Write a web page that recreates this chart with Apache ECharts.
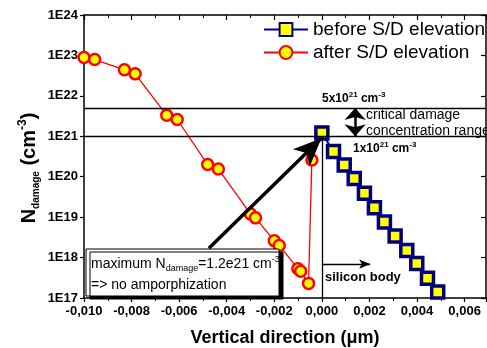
<!DOCTYPE html>
<html>
<head>
<meta charset="utf-8">
<script src="https://cdn.jsdelivr.net/npm/echarts@6/dist/echarts.min.js"></script>
<style>
  html, body { margin: 0; padding: 0; background: #fff; }
  #chart { width: 487px; height: 348px; }
</style>
</head>
<body>
<div id="chart"></div>
<script>
// datos
var xAfter = [-0.0100, -0.00955, -0.0083, -0.00785, -0.00652, -0.00608, -0.0048, -0.00435,
  -0.0030, -0.00279, -0.0020, -0.00179, -0.00101, -0.00089, -0.00056, -0.00042];
var yAfter = [8.9e22, 7.9e22, 4.4e22, 3.5e22, 3.3e21, 2.6e21, 2.0e20, 1.55e20,
  1.2e19, 9.6e18, 2.6e18, 2.0e18, 5.3e17, 4.6e17, 2.3e17, 2.6e20];

var xBefore = [0.0, 0.00049, 0.00094, 0.00136, 0.00179, 0.00221, 0.00263, 0.00308,
  0.00357, 0.00399, 0.00444, 0.00487, 0.00535];
var yBefore = [1.2e21, 4.2e20, 1.95e20, 9e19, 3.9e19, 1.7e19, 7.6e18, 3.4e18,
  1.5e18, 7.1e17, 3.1e17, 1.4e17, 6e16];

var seriesNames = ['before S/D elevation', 'after S/D elevation'];

// limites criticos y flechas (coordenadas de datos)
var critHigh = 5e21;
var critLow = 1e21;
var arrowFrom = [-0.00475, 1.7e18];
var arrowTo = [-0.00002, 8.9e20];
var siliconY = 6.9e17;
var siliconEnd = 0.00203;
var rangeX = 0.0014;

var FONT = 'Liberation Sans, Arial, sans-serif';

function fmtX(v) {
  if (Math.abs(v) < 1e-9) v = 0;
  return v.toFixed(3).replace('.', ',');
}
function fmtY(v) {
  return '1E' + Math.round(Math.log10(v));
}

var afterData = xAfter.map(function (x, i) { return [x, yAfter[i]]; });
var beforeData = xBefore.map(function (x, i) {
  if (i === xBefore.length - 1) return { value: [x, yBefore[i]], symbol: 'none' };
  return [x, yBefore[i]];
});

var chart = echarts.init(document.getElementById('chart'));

var supStyle = { fontSize: 8, fontWeight: 'bold', fontFamily: FONT, verticalAlign: 'top', lineHeight: 16 };
var boldSmall = { fontSize: 12, fontWeight: 'bold', fontFamily: FONT, lineHeight: 16 };

var option = {
  animation: false,
  grid: { left: 84, right: 1, top: 15, bottom: 50, containLabel: false, outerBoundsMode: 'none' },
  legend: {
    data: seriesNames,
    orient: 'vertical',
    left: 258,
    top: 15,
    itemWidth: 44,
    itemHeight: 16,
    itemGap: 4,
    textStyle: { fontSize: 19, color: '#000', fontFamily: FONT, lineHeight: 19 }
  },
  xAxis: [{
    type: 'value',
    min: -0.010,
    max: 0.0069,
    interval: 0.002,
    name: 'Vertical direction (\u03bcm)',
    nameLocation: 'middle',
    nameGap: 31,
    nameTextStyle: { fontSize: 18, fontWeight: 'bold', color: '#000', fontFamily: FONT },
    axisLine: { onZero: false, lineStyle: { color: '#000', width: 1.5 } },
    axisTick: { length: 4, lineStyle: { color: '#000', width: 1.2 } },
    minorTick: { show: true, splitNumber: 2, length: 3, lineStyle: { color: '#000' } },
    splitLine: { show: false },
    axisLabel: {
      formatter: fmtX, showMaxLabel: false, margin: 7,
      fontSize: 13, fontWeight: 'bold', color: '#000', fontFamily: FONT
    }
  }, {
    type: 'value',
    position: 'top',
    min: -0.010,
    max: 0.0069,
    interval: 0.002,
    axisLine: { onZero: false, lineStyle: { color: '#000', width: 1.5 } },
    axisTick: { inside: true, length: 5, lineStyle: { color: '#000', width: 1.2 } },
    minorTick: { show: true, splitNumber: 2, length: 3, lineStyle: { color: '#000' } },
    splitLine: { show: false },
    axisLabel: { show: false }
  }],
  yAxis: [{
    type: 'log',
    logBase: 10,
    min: 1e17,
    max: 1e24,
    splitNumber: 7,
    axisLine: { onZero: false, lineStyle: { color: '#000', width: 1.5 } },
    axisTick: { length: 4, lineStyle: { color: '#000', width: 1.2 } },
    splitLine: { show: false },
    axisLabel: {
      formatter: fmtY, margin: 6,
      fontSize: 13, fontWeight: 'bold', color: '#000', fontFamily: FONT
    }
  }, {
    type: 'log',
    logBase: 10,
    position: 'right',
    min: 1e17,
    max: 1e24,
    splitNumber: 7,
    axisLine: { onZero: false, lineStyle: { color: '#000', width: 1.5 } },
    axisTick: { inside: true, length: 5, lineStyle: { color: '#000', width: 1.2 } },
    splitLine: { show: false },
    axisLabel: { show: false }
  }],
  series: [{
    name: seriesNames[1],
    type: 'line',
    data: afterData,
    symbol: 'circle',
    symbolSize: 11,
    lineStyle: { color: '#ff0000', width: 1.3 },
    itemStyle: { color: '#ffff00', borderColor: '#ff0000', borderWidth: 2.5 },
    z: 3
  }, {
    name: seriesNames[0],
    type: 'line',
    data: beforeData,
    symbol: 'rect',
    symbolSize: 12,
    lineStyle: { color: '#000080', width: 2 },
    itemStyle: { color: '#ffff00', borderColor: '#00007f', borderWidth: 3.5 },
    z: 4
  }, {
    // anotaciones
    name: 'notes',
    type: 'line',
    data: [],
    z: 6,
    markLine: {
      silent: true,
      animation: false,
      label: { show: false },
      emphasis: { disabled: true },
      data: [
        [{ coord: [-0.010, critHigh], symbol: 'none' }, { coord: [0.0069, critHigh], symbol: 'none' }],
        [{ coord: [-0.010, critLow], symbol: 'none' }, { coord: [0.0069, critLow], symbol: 'none' }],
        [{ coord: [0, critLow], symbol: 'none' }, { coord: [0, 1e17], symbol: 'none' }],
        [{ coord: arrowFrom, symbol: 'none', lineStyle: { width: 3.5, color: '#000', type: 'solid' } },
         { coord: arrowTo, symbol: 'arrow', symbolSize: [18, 28] }],
        [{ coord: [rangeX, critHigh], symbol: 'arrow', symbolSize: [16, 12], lineStyle: { width: 2.5, color: '#000', type: 'solid' } },
         { coord: [rangeX, critLow], symbol: 'arrow', symbolSize: [16, 12] }],
        [{ coord: [0, siliconY], symbol: 'none', lineStyle: { width: 1.3, color: '#000', type: 'solid' } },
         { coord: [siliconEnd, siliconY], symbol: 'arrow', symbolSize: [7, 11] }]
      ],
      lineStyle: { color: '#000', width: 1.3, type: 'solid' }
    }
  }],
  graphic: [{
    type: 'text',
    x: 29, y: 168,
    rotation: Math.PI / 2,
    style: {
      text: '{n|N}{s|damage}{n| (cm}{p|-3}{n|)}',
      align: 'center',
      verticalAlign: 'middle',
      rich: {
        n: { fontSize: 20, fontWeight: 'bold', fontFamily: FONT, lineHeight: 24, fill: '#000' },
        s: { fontSize: 10, fontWeight: 'bold', fontFamily: FONT, lineHeight: 24, verticalAlign: 'bottom', fill: '#000' },
        p: { fontSize: 12, fontWeight: 'bold', fontFamily: FONT, lineHeight: 24, verticalAlign: 'top', fill: '#000' }
      }
    }
  }, {
    type: 'text', x: 322, y: 99,
    style: {
      text: '{b|5x10}{p|21}{b| cm}{p|-3}', verticalAlign: 'middle',
      rich: { b: boldSmall, p: supStyle }
    }
  }, {
    type: 'text', x: 353, y: 149,
    style: {
      text: '{b|1x10}{p|21}{b| cm}{p|-3}', verticalAlign: 'middle',
      rich: { b: boldSmall, p: supStyle }
    }
  }, {
    type: 'text', x: 366, y: 115,
    style: { text: 'critical damage', verticalAlign: 'middle', fontSize: 14, fontFamily: FONT, fill: '#000' }
  }, {
    type: 'text', x: 366, y: 131,
    style: { text: 'concentration range', verticalAlign: 'middle', fontSize: 14, fontFamily: FONT, fill: '#000' }
  }, {
    type: 'text', x: 325, y: 277,
    style: { text: 'silicon body', verticalAlign: 'middle', fontSize: 13, fontWeight: 'bold', fontFamily: FONT, fill: '#000' }
  }, {
    type: 'rect', z: 100,
    shape: { x: 86, y: 249, width: 193, height: 47 },
    style: { fill: '#fff', stroke: '#000', lineWidth: 1, shadowColor: '#000', shadowOffsetX: 4, shadowOffsetY: 3, shadowBlur: 0 }
  }, {
    type: 'text', z: 101, x: 91, y: 264,
    style: {
      text: '{t|maximum N}{s|damage}{t|=1.2e21 cm}{p|-3}', verticalAlign: 'middle',
      rich: {
        t: { fontSize: 14, fontFamily: FONT, lineHeight: 18, fill: '#000' },
        s: { fontSize: 9, fontFamily: FONT, lineHeight: 18, verticalAlign: 'bottom', fill: '#000' },
        p: { fontSize: 9, fontFamily: FONT, lineHeight: 18, verticalAlign: 'top', fill: '#000' }
      }
    }
  }, {
    type: 'text', z: 101, x: 91, y: 285,
    style: { text: '=> no amporphization', verticalAlign: 'middle', fontSize: 14, fontFamily: FONT, fill: '#000' }
  }]
};

chart.setOption(option);
</script>
</body>
</html>
